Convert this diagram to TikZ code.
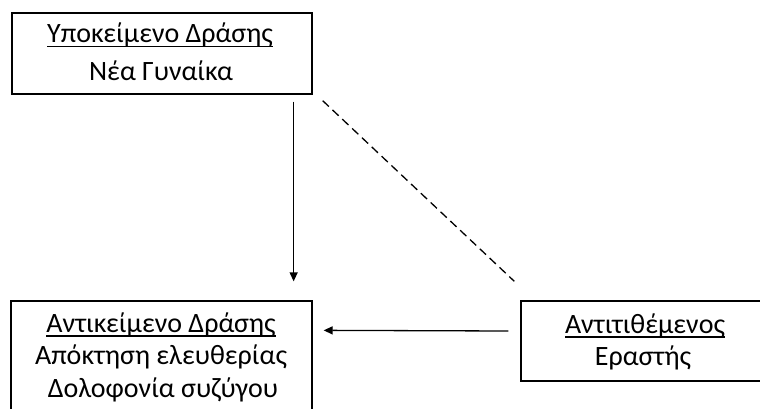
\documentclass[tikz,border=0pt]{standalone}
\usepackage{fontspec}
\setmainfont{Carlito}
\usetikzlibrary{arrows.meta}

% underline drawn at a fixed depth below the baseline, crossing descenders
\newcommand\undl[1]{\setbox0\hbox{#1}\rlap{\rule[-4.5pt]{\wd0}{1.2pt}}\box0}

\tikzset{
  box/.style={draw, line width=1.3pt, rectangle, inner sep=0pt},
  ln/.style={anchor=base, inner sep=0pt, font=\fontsize{28}{32}\selectfont},
  link/.style={line width=1.3pt},
  arr/.style={link, -{Triangle[length=9pt,width=8pt]}},
  dashlink/.style={link, dash pattern=on 8.5pt off 5pt}
}

\begin{document}
\begin{tikzpicture}[x=1pt, y=-1pt]
  \useasboundingbox (0,0) rectangle (760,409);
  \clip (0,0) rectangle (760,409);

  % boxes
  \node[box, minimum width=300pt, minimum height=81pt] (subj) at (162,53.5) {};
  \node[box, minimum width=301pt, minimum height=140pt] (obj) at (161.5,371) {};
  \node[box, minimum width=250pt, minimum height=80pt] (opp) at (646,341) {};

  % texts
  \node[ln] (subj1) at (160,43) {\undl{Υποκείμενο Δράσης}};
  \node[ln] (subj2) at (161,81) {Νέα Γυναίκα};

  \node[ln] (obj1) at (161,332) {\undl{Αντικείμενο Δράσης}};
  \node[ln] (obj2) at (161,364) {Απόκτηση ελευθερίας};
  \node[ln] (obj3) at (163,397) {Δολοφονία συζύγου};

  \node[ln] (opp1) at (645,333) {\undl{Αντιτιθέμενος}};
  \node[ln] (opp2) at (643,365) {Εραστής};

  % connectors
  \draw[arr] ([xshift=-19pt,yshift=-7pt]subj.south east) -- ([xshift=-19pt,yshift=19pt]obj.north east);
  \draw[dashlink] ([xshift=10pt,yshift=-6pt]subj.south east) -- ([xshift=-6pt,yshift=19pt]opp.north west);
  \draw[arr] ([xshift=-12pt,yshift=10pt]opp.west) -- ([xshift=11pt,yshift=-30pt]obj.north east);
\end{tikzpicture}
\end{document}
